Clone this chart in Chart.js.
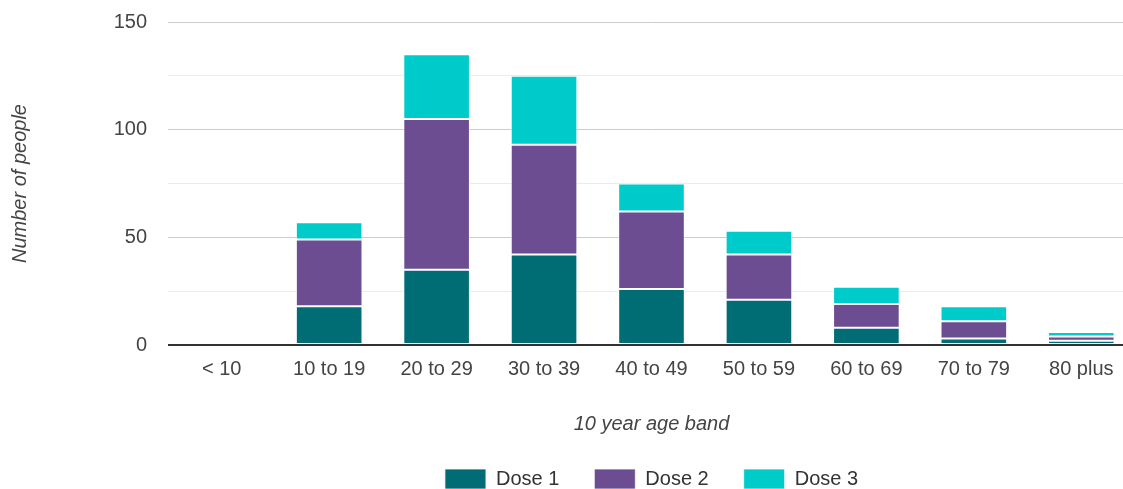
<!DOCTYPE html>
<html>
<head>
  <title>Doses by age band</title>
  <script src="https://cdn.jsdelivr.net/npm/chart.js"></script>
  <style>
    html, body {
      margin: 0;
      padding: 0;
      overflow: hidden;
      background: #ffffff;
    }
    /* canvas is a bit larger than the window: the reference is cropped right and bottom */
    #chartBox {
      position: absolute;
      left: 0;
      top: 0;
      width: 1135px;
      height: 499px;
    }
  </style>
</head>
<body>
<div id="chartBox">
  <canvas id="doseChart"></canvas>
</div>

<script>
  const ageBands = ['< 10', '10 to 19', '20 to 29', '30 to 39', '40 to 49', '50 to 59', '60 to 69', '70 to 79', '80 plus'];
  const dose1 = [0, 18, 35, 42, 26, 21, 8, 3, 2];
  const dose2 = [0, 31, 70, 51, 36, 21, 11, 8, 2];
  const dose3 = [1, 8, 30, 32, 13, 11, 8, 7, 2];
  const yTicks = [0, 50, 100, 150];

  const textColor = '#444444';
  const fontFamily = '"Liberation Sans", Arial, sans-serif';

  const ctx = document.getElementById('doseChart').getContext('2d');

  function makeSet(label, data, color) {
    return {
      label: label,
      data: data,
      backgroundColor: color,
      borderColor: 'rgba(255,255,255,0.75)',
      borderWidth: 1,
      borderSkipped: false,
      barPercentage: 1,
      categoryPercentage: 0.62
    };
  }

  const doseChart = new Chart(ctx, {
    type: 'bar',
    data: {
      labels: ageBands,
      datasets: [
        makeSet('Dose 1', dose1, '#006d75'),
        makeSet('Dose 2', dose2, '#6c4d92'),
        makeSet('Dose 3', dose3, '#00cbcb')
      ]
    },
    options: {
      responsive: true,
      maintainAspectRatio: false,
      animation: false,
      layout: {
        padding: {top: 22, left: 0, right: 0, bottom: 0}
      },
      plugins: {
        tooltip: {enabled: false},
        legend: {
          position: 'bottom',
          fullSize: false,
          labels: {
            boxWidth: 41,
            boxHeight: 20,
            padding: 35,
            color: '#333333',
            font: {family: fontFamily, size: 20}
          }
        }
      },
      scales: {
        x: {
          stacked: true,
          grid: {display: false, drawTicks: false, tickLength: 0},
          border: {display: false},
          ticks: {
            color: textColor,
            padding: 12,
            maxRotation: 0,
            font: {family: fontFamily, size: 20}
          },
          title: {
            display: true,
            text: '10 year age band',
            color: textColor,
            padding: {top: 21, bottom: 0},
            font: {family: fontFamily, size: 20, style: 'italic', lineHeight: 1}
          }
        },
        y: {
          stacked: true,
          min: 0,
          max: 150,
          afterFit: function (scale) {
            scale.width = 168;
            // tick padding would otherwise push the plot top down
            scale.paddingTop = 0;
            scale.paddingBottom = 0;
          },
          afterBuildTicks: function (scale) {
            // gridlines every 25, labels only on the named ticks
            const list = [];
            for (let v = 0; v <= 150; v += 25) list.push({value: v});
            scale.ticks = list;
          },
          border: {display: false},
          grid: {
            drawTicks: false,
            color: function (c) {
              const v = c.tick.value;
              if (v === 0) return '#333333';
              return yTicks.includes(v) ? '#cccccc' : '#ebebeb';
            },
            lineWidth: function (c) {
              return c.tick.value === 0 ? 2 : 1;
            }
          },
          ticks: {
            color: textColor,
            padding: 21,
            font: {family: fontFamily, size: 20},
            callback: function (value) {
              return yTicks.includes(value) ? String(value) : '';
            }
          },
          title: {
            display: true,
            text: 'Number of people',
            color: textColor,
            padding: {top: 8, bottom: 0},
            font: {family: fontFamily, size: 20, style: 'italic'}
          }
        }
      }
    }
  });
</script>
</body>
</html>
